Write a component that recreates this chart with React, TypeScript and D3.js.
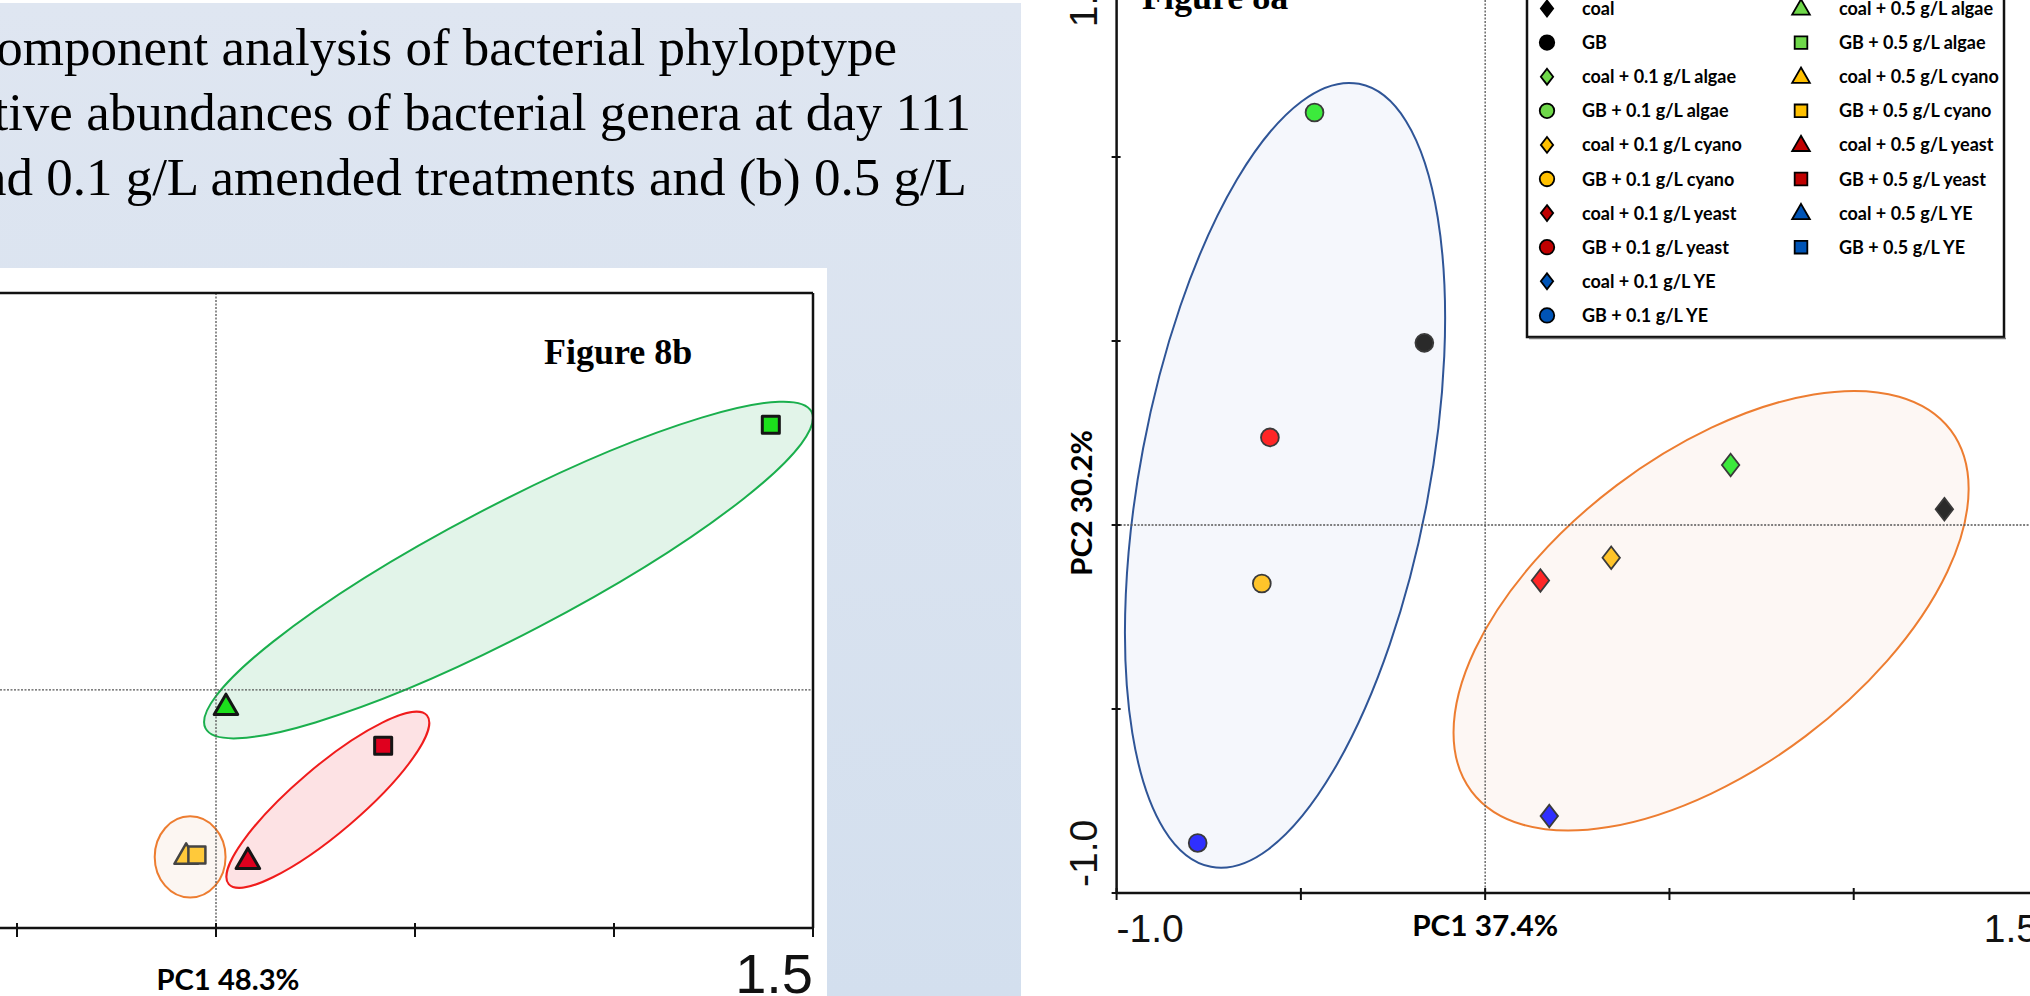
import { scaleLinear, symbol, symbolCircle, symbolSquare, symbolTriangle } from "d3";

const W = 2030;
const H = 996;

// Figure 8a: coal / GB and the 0.1 g/L amended treatments
const treatments8a = [
  "coal",
  "GB",
  "coal + 0.1 g/L algae",
  "GB + 0.1 g/L algae",
  "coal + 0.1 g/L cyano",
  "GB + 0.1 g/L cyano",
  "coal + 0.1 g/L yeast",
  "GB + 0.1 g/L yeast",
  "coal + 0.1 g/L YE",
  "GB + 0.1 g/L YE",
];
const pc1_8a = [1.246, -0.165, 0.666, -0.463, 0.342, -0.606, 0.15, -0.584, 0.174, -0.78];
const pc2_8a = [0.043, 0.495, 0.163, 1.121, -0.089, -0.159, -0.151, 0.238, -0.791, -0.864];

// Figure 8b: 0.5 g/L amended treatments (the visible part)
const treatments8b = [
  "coal + 0.5 g/L cyano",
  "GB + 0.5 g/L cyano",
  "coal + 0.5 g/L algae",
  "GB + 0.5 g/L algae",
  "coal + 0.5 g/L yeast",
  "GB + 0.5 g/L yeast",
];
const pc1_8b = [-0.075, -0.048, 0.025, 1.394, 0.08, 0.42];
const pc2_8b = [-0.421, -0.416, -0.045, 0.668, -0.433, -0.141];

// confidence ellipses (data units, angle in degrees)
const ellipses8a = ["GB", "coal"];
const ell8aCx = [-0.543, 0.613];
const ell8aCy = [0.135, -0.233];
const ell8aA = [1.081, 0.814];
const ell8aB = [0.392, 0.426];
const ell8aAngle = [79.3, 37];

const ellipses8b = ["algae", "yeast", "cyano"];
const ell8bCx = [0.735, 0.281, -0.065];
const ell8bCy = [0.302, -0.277, -0.421];
const ell8bA = [0.859, 0.327, 0.089];
const ell8bB = [0.162, 0.083, 0.102];
const ell8bAngle = [27.6, 40.4, 0];

const legendCol1 = treatments8a;
const legendCol2 = [
  "coal + 0.5 g/L algae",
  "GB + 0.5 g/L algae",
  "coal + 0.5 g/L cyano",
  "GB + 0.5 g/L cyano",
  "coal + 0.5 g/L yeast",
  "GB + 0.5 g/L yeast",
  "coal + 0.5 g/L YE",
  "GB + 0.5 g/L YE",
];

const axisTicks = [-1.0, -0.5, 0, 0.5, 1.0, 1.5];

const titleLines = [
  "component analysis of bacterial phyloptype",
  "relative abundances of bacterial genera at day 111",
  "and 0.1 g/L amended treatments and (b) 0.5 g/L",
];

const ellipseStyle: Record<string, { fill: string; stroke: string }> = {
  GB: { fill: "#f5f7fc", stroke: "#2f5597" },
  coal: { fill: "#fdf7f4", stroke: "#ed7d31" },
  algae: { fill: "#e2f4e9", stroke: "#1aaf4d" },
  yeast: { fill: "#fde2e4", stroke: "#f01c1c" },
  cyano: { fill: "#fcf6f2", stroke: "#ed7d31" },
};

const legendColor: Record<string, string> = {
  none: "#000000",
  algae: "#6fd84a",
  cyano: "#ffc000",
  yeast: "#c00000",
  YE: "#0054b6",
};
const pointColor8a: Record<string, string> = {
  none: "#2a2a2a",
  algae: "#3cea3c",
  cyano: "#ffc42a",
  yeast: "#ff2626",
  YE: "#2f2fff",
};
const pointColor8b: Record<string, string> = {
  none: "#2a2a2a",
  algae: "#1ce01c",
  cyano: "#ffc93a",
  yeast: "#df001e",
  YE: "#1f4fd0",
};

function amendment(t: string) {
  const m = t.match(/g\/L (\w+)$/);
  return m ? m[1] : "none";
}

function shapeOf(t: string) {
  const coal = t.startsWith("coal");
  if (t.includes("0.5")) return coal ? "triangle" : "square";
  return coal ? "diamond" : "circle";
}

const diamondType = {
  draw(ctx: any, size: number) {
    const r = Math.sqrt(size) / 2;
    ctx.moveTo(0, -r * 1.1);
    ctx.lineTo(r * 0.85, 0);
    ctx.lineTo(0, r * 1.1);
    ctx.lineTo(-r * 0.85, 0);
    ctx.closePath();
  },
};

function markerPath(shape: string, size: number) {
  const type =
    shape === "diamond"
      ? diamondType
      : shape === "circle"
      ? symbolCircle
      : shape === "square"
      ? symbolSquare
      : symbolTriangle;
  return symbol(type as any, size)() || "";
}

// Scales
const xA = scaleLinear().domain([-1.0, 1.5]).range([1116.6, 2038]);
const yA = scaleLinear().domain([-1.0, 1.5]).range([893, -27]);
const xB = scaleLinear().domain([-1.0, 1.5]).range([-182, 813]);
const yB = scaleLinear().domain([-0.6, 1.0]).range([928, 293]);

const kA = xA(1) - xA(0);
const kB = xB(1) - xB(0);

const calibri = "Lato, 'Open Sans', sans-serif";
const arial = "'Liberation Sans', Arial, sans-serif";
const times = "'Liberation Serif', 'Times New Roman', serif";

export default function App() {
  const sizeA: Record<string, number> = { diamond: 420, circle: 250 };
  const sizeB: Record<string, number> = { square: 290, triangle: 240 };
  const sizeL: Record<string, number> = { diamond: 210, circle: 165, triangle: 135, square: 160 };

  return (
    <div style={{ position: "fixed", left: 0, top: 0, width: W, height: H, background: "#fff" }}>
      <svg width={W} height={H} style={{ display: "block" }}>
        <defs>
          <linearGradient id="panel" x1="0" y1="0" x2="0" y2="1">
            <stop offset="0" stopColor="#dfe6f1" />
            <stop offset="1" stopColor="#d3dfee" />
          </linearGradient>
          <clipPath id="clipB">
            <rect x={0} y={268} width={827} height={H - 268} />
          </clipPath>
        </defs>

        {/* slide panel behind the left figure */}
        <rect x={0} y={3} width={1021} height={H - 3} fill="url(#panel)" />
        {titleLines.map((line, i) => (
          <text
            key={line}
            x={[897, 971, 967][i]}
            y={65 + i * 65}
            textAnchor="end"
            fontFamily={times}
            fontSize={53}
            fill="#000"
          >
            {line}
          </text>
        ))}

        {/* ---------- Figure 8b ---------- */}
        <rect x={0} y={268} width={827} height={H - 268} fill="#fff" />
        <g clipPath="url(#clipB)">
          {ellipses8b.map((g, i) => {
            const cx = xB(ell8bCx[i]);
            const cy = yB(ell8bCy[i]);
            return (
              <ellipse
                key={g}
                cx={cx}
                cy={cy}
                rx={ell8bA[i] * kB}
                ry={ell8bB[i] * kB}
                transform={`rotate(${-ell8bAngle[i]} ${cx} ${cy})`}
                fill={ellipseStyle[g].fill}
                stroke={ellipseStyle[g].stroke}
                strokeWidth={2}
              />
            );
          })}
          <line x1={xB(0)} x2={xB(0)} y1={yB(1)} y2={yB(-0.6)} stroke="#555" strokeWidth={1.3} strokeDasharray="2 1.5" />
          <line x1={0} x2={xB(1.5)} y1={yB(0)} y2={yB(0)} stroke="#555" strokeWidth={1.3} strokeDasharray="2 1.5" />
          <line x1={-200} x2={xB(1.5)} y1={yB(1)} y2={yB(1)} stroke="#111" strokeWidth={2.5} />
          <line x1={xB(1.5)} x2={xB(1.5)} y1={yB(1)} y2={yB(-0.6)} stroke="#111" strokeWidth={2.5} />
          <line x1={-200} x2={xB(1.5) + 1} y1={yB(-0.6)} y2={yB(-0.6)} stroke="#111" strokeWidth={2.5} />
          {axisTicks.map((t) => (
            <line key={t} x1={xB(t)} x2={xB(t)} y1={yB(-0.6) - 5} y2={yB(-0.6) + 9} stroke="#111" strokeWidth={2} />
          ))}
          {treatments8b.map((t, i) => {
            const a = amendment(t);
            const s = shapeOf(t);
            return (
              <path
                key={t}
                d={markerPath(s, sizeB[s])}
                transform={`translate(${xB(pc1_8b[i])},${yB(pc2_8b[i])})`}
                fill={pointColor8b[a]}
                stroke={a === "cyano" ? "#444" : "#151515"}
                strokeWidth={a === "cyano" ? 2.5 : 3}
                strokeLinejoin="round"
              />
            );
          })}
          <text x={544} y={364} fontFamily={times} fontWeight="bold" fontSize={36} fill="#000">
            Figure 8b
          </text>
          <text x={xB(1.5)} y={993} textAnchor="end" fontFamily={arial} fontSize={56} fill="#111">
            1.5
          </text>
          <text x={228} y={990} textAnchor="middle" fontFamily={calibri} fontWeight="bold" fontSize={29} fill="#000" textLength={143} lengthAdjust="spacingAndGlyphs">
            PC1 48.3%
          </text>
        </g>

        {/* ---------- Figure 8a ---------- */}
        <rect x={1021} y={0} width={W - 1021} height={H} fill="#fff" />
        {ellipses8a.map((g, i) => {
          const cx = xA(ell8aCx[i]);
          const cy = yA(ell8aCy[i]);
          return (
            <ellipse
              key={g}
              cx={cx}
              cy={cy}
              rx={ell8aA[i] * kA}
              ry={ell8aB[i] * kA}
              transform={`rotate(${-ell8aAngle[i]} ${cx} ${cy})`}
              fill={ellipseStyle[g].fill}
              stroke={ellipseStyle[g].stroke}
              strokeWidth={2}
            />
          );
        })}
        <line x1={xA(0)} x2={xA(0)} y1={0} y2={yA(-1)} stroke="#555" strokeWidth={1.3} strokeDasharray="2 1.5" />
        <line x1={xA(-1)} x2={W} y1={yA(0)} y2={yA(0)} stroke="#555" strokeWidth={1.3} strokeDasharray="2 1.5" />
        <line x1={xA(-1)} x2={xA(-1)} y1={0} y2={yA(-1) + 1} stroke="#111" strokeWidth={2.5} />
        <line x1={xA(-1) - 1} x2={W} y1={yA(-1)} y2={yA(-1)} stroke="#111" strokeWidth={2.5} />
        {axisTicks.map((t) => (
          <g key={t}>
            <line x1={xA(t)} x2={xA(t)} y1={yA(-1) - 5} y2={yA(-1) + 7} stroke="#111" strokeWidth={2} />
            <line x1={xA(-1) - 5} x2={xA(-1) + 4} y1={yA(t)} y2={yA(t)} stroke="#111" strokeWidth={2} />
          </g>
        ))}
        {treatments8a.map((t, i) => {
          const a = amendment(t);
          const s = shapeOf(t);
          return (
            <path
              key={t}
              d={markerPath(s, sizeA[s])}
              transform={`translate(${xA(pc1_8a[i])},${yA(pc2_8a[i])})`}
              fill={pointColor8a[a]}
              stroke="#3a3a3a"
              strokeWidth={1.8}
            />
          );
        })}
        <text x={1142} y={9} fontFamily={times} fontWeight="bold" fontSize={36} fill="#000">
          Figure 8a
        </text>
        <text x={xA(-1)} y={942} fontFamily={arial} fontSize={39} fill="#111">
          -1.0
        </text>
        <text x={xA(1.5)} y={942} textAnchor="end" fontFamily={arial} fontSize={39} fill="#111">
          1.5
        </text>
        <text transform={`translate(1097,${yA(-1) - 6}) rotate(-90)`} fontFamily={arial} fontSize={39} fill="#111">
          -1.0
        </text>
        <text transform={`translate(1097,${yA(1.5)}) rotate(-90)`} textAnchor="end" fontFamily={arial} fontSize={39} fill="#111">
          1.5
        </text>
        <text x={xA(0)} y={936} textAnchor="middle" fontFamily={calibri} fontWeight="bold" fontSize={29} fill="#000" textLength={146} lengthAdjust="spacingAndGlyphs">
          PC1 37.4%
        </text>
        <text transform="translate(1092,503) rotate(-90)" textAnchor="middle" fontFamily={calibri} fontWeight="bold" fontSize={29} fill="#000" textLength={146} lengthAdjust="spacingAndGlyphs">
          PC2 30.2%
        </text>

        {/* legend */}
        <rect x={1527} y={-20} width={477} height={357} fill="#fff" stroke="#111" strokeWidth={2.5} />
        <line x1={1529} x2={2006} y1={338.5} y2={338.5} stroke="#777" strokeWidth={1.5} />
        {[legendCol1, legendCol2].map((col, c) =>
          col.map((t, r) => {
            const a = amendment(t);
            const s = shapeOf(t);
            const cy = 8.5 + r * 34.1;
            const mx = c === 0 ? 1547 : 1801;
            const tx = c === 0 ? 1582 : 1839;
            return (
              <g key={t}>
                <path
                  d={markerPath(s, sizeL[s])}
                  transform={`translate(${mx},${cy + (s === "triangle" ? 1 : 0)})`}
                  fill={legendColor[a]}
                  stroke="#000"
                  strokeWidth={1.8}
                />
                <text x={tx} y={cy + 6.5} fontFamily={calibri} fontWeight="bold" fontSize={18} fill="#000">
                  {t}
                </text>
              </g>
            );
          })
        )}
      </svg>
    </div>
  );
}
